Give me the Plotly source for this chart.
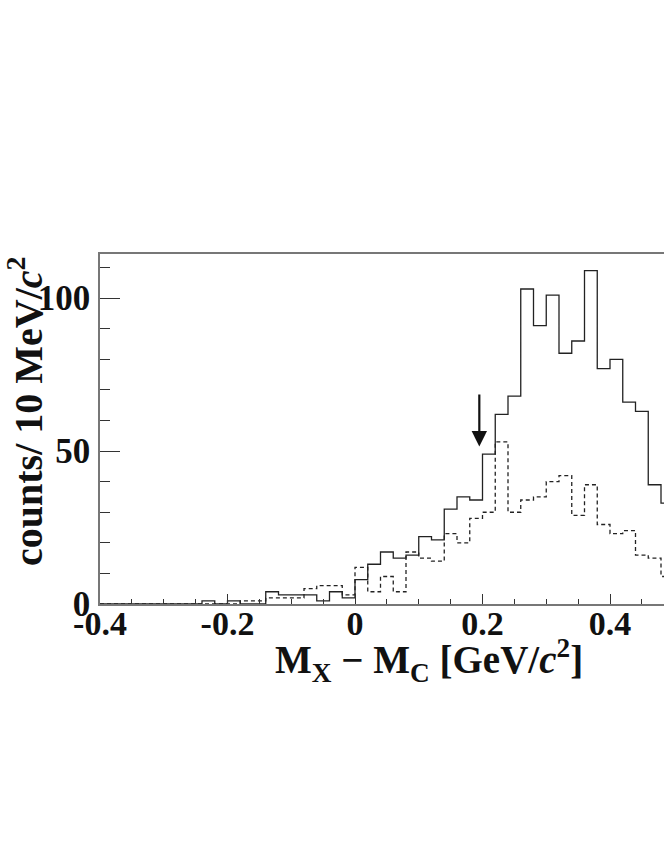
import plotly.graph_objects as go

# Bin lower edges (GeV/c^2), bin width 0.02
bin_width = 0.02
bin_lo = [round(-0.40 + 0.02 * i, 2) for i in range(45)]

solid_counts = [0, 0, 0, 0, 0, 0, 0, 0, 1, 0,
                1, 0, 0, 4, 3, 3, 3, 1, 4, 2,
                8, 13, 17, 15, 16, 22, 21, 31, 35, 34,
                49, 62, 68, 103, 91, 101, 82, 86, 109, 77,
                80, 66, 63, 39, 33]

dashed_counts = [0, 0, 0, 0, 0, 0, 0, 0, 0, 0,
                 0, 1, 1, 2, 2, 2, 5, 6, 6, 3,
                 12, 4, 9, 4, 17, 15, 14, 23, 20, 28,
                 30, 53, 30, 34, 35, 40, 42, 29, 39, 26,
                 23, 24, 16, 15, 9]

x_ticks = [-0.4, -0.2, 0, 0.2, 0.4]
x_ticklabels = ["-0.4", "-0.2", "0", "0.2", "0.4"]
y_ticks = [0, 50, 100]
y_ticklabels = ["0", "50", "100"]

arrow_x = 0.195
arrow_top = 69
arrow_tip = 51.5

x_range = [-0.4, 0.4847]
y_range = [0, 114.45]


def step_xy(counts):
    xs = [bin_lo[0]] + list(bin_lo) + [bin_lo[-1] + bin_width, bin_lo[-1] + bin_width]
    ys = [0] + list(counts) + [counts[-1], 0]
    return xs, ys


FONT = "Liberation Serif"
fig = go.Figure()

xs, ys = step_xy(dashed_counts)
fig.add_trace(go.Scatter(x=xs, y=ys, mode="lines", line_shape="hv",
                         line=dict(color="#222", width=1.3, dash="4px,3px"),
                         showlegend=False, hoverinfo="skip"))
xs, ys = step_xy(solid_counts)
fig.add_trace(go.Scatter(x=xs, y=ys, mode="lines", line_shape="hv",
                         line=dict(color="#222", width=1.3),
                         showlegend=False, hoverinfo="skip"))

fig.add_annotation(x=arrow_x, y=arrow_tip, ax=arrow_x, ay=arrow_top,
                   xref="x", yref="y", axref="x", ayref="y",
                   showarrow=True, arrowhead=2, arrowsize=1.4, arrowwidth=2.2,
                   arrowcolor="#111", text="")

fig.add_annotation(x=429, y=660, xref="paper", yref="paper",
                   text="<b>M<sub>X</sub> − M<sub>C</sub> [GeV/<i>c</i><sup>2</sup>]</b>",
                   showarrow=False, font=dict(family=FONT, size=39, color="#111"),
                   xanchor="center", yanchor="middle")
fig.add_annotation(x=25, y=411, xref="paper", yref="paper",
                   text="<b>counts/ 10 MeV/<i>c</i><sup>2</sup></b>",
                   showarrow=False, textangle=-90,
                   font=dict(family=FONT, size=40, color="#111"),
                   xanchor="center", yanchor="middle")

W, H = 664, 860
L, R, T, B = 100, 0, 254, 256
# convert annotation pixel positions to paper coords
for ann in fig.layout.annotations:
    if ann.xref == "paper":
        px, py = ann.x, ann.y
        ann.x = (px - L) / (W - L - R)
        ann.y = (H - B - py) / (H - T - B)

fig.update_layout(
    width=W, height=H,
    margin=dict(l=L, r=R, t=T, b=B, pad=0),
    paper_bgcolor="white", plot_bgcolor="white",
    font=dict(family=FONT, color="#111"),
    xaxis=dict(range=x_range, showgrid=False, zeroline=False,
               showline=True, linecolor="#777", linewidth=1.5, mirror=True,
               ticks="inside", ticklen=10, tickwidth=1.3, tickcolor="#333",
               tickvals=x_ticks, ticktext=x_ticklabels,
               tickfont=dict(family=FONT, size=34, weight="bold", color="#111"),
               ticklabelstandoff=-12,
               minor=dict(ticks="inside", ticklen=5, tickwidth=1.1, tickcolor="#333",
                          dtick=0.05, tick0=0, showgrid=False)),
    yaxis=dict(range=y_range, showgrid=False, zeroline=False,
               showline=True, linecolor="#777", linewidth=1.5, mirror=False,
               ticks="inside", ticklen=20, tickwidth=1.3, tickcolor="#333",
               tickvals=y_ticks, ticktext=y_ticklabels,
               tickfont=dict(family=FONT, size=35, weight="bold", color="#111"),
               ticklabelstandoff=1,
               minor=dict(ticks="inside", ticklen=10, tickwidth=1.1, tickcolor="#333",
                          dtick=10, tick0=0, showgrid=False)),
)

fig.write_html("out.html", config={"displayModeBar": False},
               post_script="document.body.style.margin='0';")
